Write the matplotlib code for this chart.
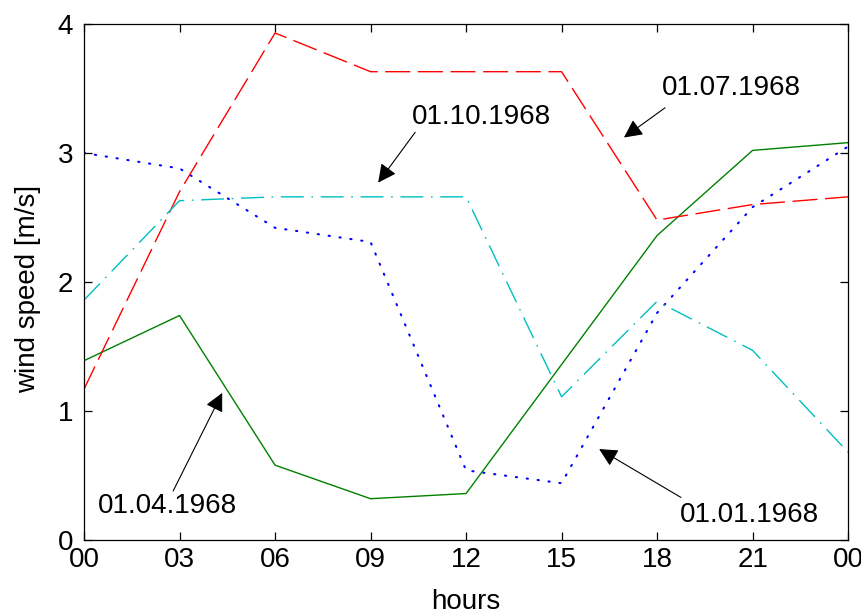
import matplotlib
matplotlib.use("Agg")
import matplotlib.pyplot as plt

plt.rcParams['font.family'] = ['Liberation Sans', 'DejaVu Sans']
plt.rcParams['lines.scale_dashes'] = False

# hours of the day (00 .. 24)
hours = [0, 3, 6, 9, 12, 15, 18, 21, 24]
hour_labels = ['00', '03', '06', '09', '12', '15', '18', '21', '00']

# wind speed [m/s] for each day
jan = [3.00, 2.88, 2.42, 2.31, 0.54, 0.44, 1.76, 2.58, 3.05]
apr = [1.39, 1.74, 0.58, 0.32, 0.36, 1.36, 2.36, 3.02, 3.08]
jul = [1.17, 2.70, 3.93, 3.63, 3.63, 3.63, 2.48, 2.60, 2.66]
octo = [1.86, 2.63, 2.66, 2.66, 2.66, 1.11, 1.85, 1.47, 0.68]

fig = plt.figure(figsize=(8.61, 6.16), dpi=100)
ax = fig.add_axes([0.0976, 0.1234, 0.8874, 0.8377])

ax.plot(hours, jan, color=(0, 0, 1), lw=1.5, dashes=[0.9, 7.0], dash_capstyle='round')
ax.plot(hours, apr, color=(0, 0.5, 0), lw=1.0)
ax.plot(hours, jul, color=(1, 0, 0), lw=1.0, dashes=[18, 5.5])
ax.plot(hours, octo, color=(0, 0.75, 0.75), lw=1.0, dashes=[16.5, 5.5, 1.2, 5.5])

# labels with arrows
arrow = dict(arrowstyle='-|>', color='k', lw=0.8, mutation_scale=28, shrinkA=0, shrinkB=0)
ax.annotate('', xy=(9.24, 2.77), xytext=(10.4, 3.16), arrowprops=arrow)
ax.text(10.3, 3.28, '01.10.1968', fontsize=20, va='center', ha='left')

ax.annotate('', xy=(16.96, 3.12), xytext=(18.25, 3.35), arrowprops=arrow)
ax.text(18.15, 3.50, '01.07.1968', fontsize=20, va='center', ha='left')

ax.annotate('', xy=(4.34, 1.14), xytext=(2.80, 0.38), arrowprops=arrow)
ax.text(0.42, 0.26, '01.04.1968', fontsize=20, va='center', ha='left')

ax.annotate('', xy=(16.18, 0.705), xytext=(18.75, 0.33), arrowprops=arrow)
ax.text(18.72, 0.19, '01.01.1968', fontsize=20, va='center', ha='left')

ax.set_xlim(0, 24)
ax.set_ylim(0, 4)
ax.set_xticks(hours)
ax.set_xticklabels(hour_labels)
ax.set_yticks([0, 1, 2, 3, 4])

ax.tick_params(direction='in', length=6, width=0.9, top=True, right=True,
               labelsize=20, color='k')
ax.tick_params(axis='x', pad=5)
ax.tick_params(axis='y', pad=8)
for s in ax.spines.values():
    s.set_linewidth(0.9)

ax.set_xlabel('hours', fontsize=20)
ax.set_ylabel('wind speed [m/s]', fontsize=20)
ax.xaxis.set_label_coords(0.5, -0.095)
ax.yaxis.set_label_coords(-0.056, 0.486)

fig.savefig('out.png', dpi=100)
